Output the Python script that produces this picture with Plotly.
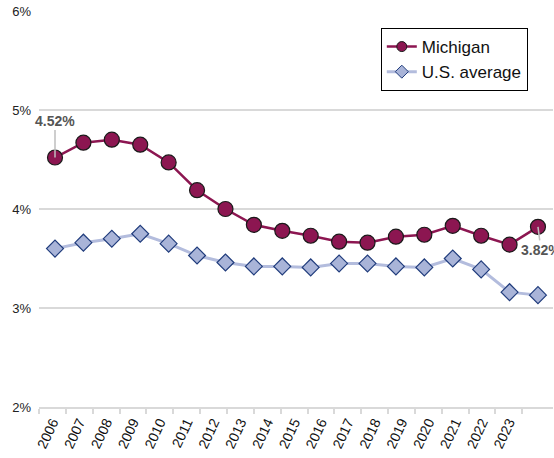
import plotly.graph_objects as go

years = list(range(2006, 2024))
year_labels = [str(y) for y in years]
michigan = [4.52, 4.67, 4.70, 4.65, 4.47, 4.19, 4.00, 3.84, 3.78, 3.73, 3.67, 3.66, 3.72, 3.74, 3.83, 3.73, 3.64, 3.82]
us_avg = [3.60, 3.66, 3.70, 3.75, 3.65, 3.53, 3.46, 3.42, 3.42, 3.41, 3.45, 3.45, 3.42, 3.41, 3.50, 3.39, 3.16, 3.13]
y_ticks = [2, 3, 4, 5, 6]
y_labels = ["2%", "3%", "4%", "5%", "6%"]

FONT = "Liberation Sans, Arial, sans-serif"
MI_COLOR = "#8C1651"
US_LINE = "#B3BCDD"
US_FILL = "#A9B4D8"
US_EDGE = "#203C7C"

fig = go.Figure()
fig.add_trace(go.Scatter(
    x=years, y=us_avg, name="U.S. average", mode="lines+markers", showlegend=False,
    line=dict(color=US_LINE, width=3),
    marker=dict(symbol="diamond", size=13, color=US_FILL, line=dict(color=US_EDGE, width=1.2)),
))
fig.add_trace(go.Scatter(
    x=years, y=michigan, name="Michigan", mode="lines+markers", showlegend=False,
    line=dict(color=MI_COLOR, width=2.5),
    marker=dict(symbol="circle", size=15, color=MI_COLOR, line=dict(color="#1a1a1a", width=1.2)),
))
# legend entries (smaller symbols, as in the reference legend)
fig.add_trace(go.Scatter(
    x=[None], y=[None], name="Michigan", mode="lines+markers",
    line=dict(color=MI_COLOR, width=2.5),
    marker=dict(symbol="circle", size=10, color=MI_COLOR, line=dict(color="#1a1a1a", width=1)),
))
fig.add_trace(go.Scatter(
    x=[None], y=[None], name="U.S. average", mode="lines+markers",
    line=dict(color=US_LINE, width=3),
    marker=dict(symbol="diamond", size=10, color=US_FILL, line=dict(color=US_EDGE, width=1)),
))

n = len(years)
fig.update_layout(
    width=554, height=458,
    margin=dict(l=39, r=1, t=11, b=51),
    paper_bgcolor="white", plot_bgcolor="white",
    font=dict(family=FONT, size=13, color="#111"),
    xaxis=dict(range=[2005.437, 2023.529], showgrid=False, showticklabels=False,
               zeroline=False, showline=False, ticks="", automargin=False),
    xaxis2=dict(overlaying="x", anchor="y", side="bottom", automargin=False,
                range=[-0.5, -0.5 + 514 / 26.85],
                tickmode="array", tickvals=list(range(n)), ticktext=year_labels,
                tickangle=-65, ticks="", showgrid=False, zeroline=False,
                showline=True, linecolor="#D9D9D9", linewidth=1.5,
                tickfont=dict(size=14, color="#111"),
                minor=dict(tickmode="array", tickvals=[i - 0.5 for i in range(n + 1)],
                           ticks="outside", ticklen=5, tickcolor="#D9D9D9", tickwidth=1.5,
                           showgrid=False)),
    yaxis=dict(range=[2, 6], tickmode="array", tickvals=y_ticks, ticktext=y_labels,
               showgrid=True, gridcolor="#D9D9D9", gridwidth=1.5, zeroline=False,
               showline=False, ticks="", ticklabelstandoff=7, automargin=False,
               tickfont=dict(size=13, color="#222")),
    legend=dict(x=0.665, y=0.957, xanchor="left", yanchor="top",
                bgcolor="white", bordercolor="#000", borderwidth=1,
                font=dict(size=17, color="#111")),
    showlegend=True,
)

fig.add_trace(go.Scatter(x=[], y=[], xaxis="x2", yaxis="y", showlegend=False, hoverinfo="skip"))

fig.add_annotation(x=years[0], y=michigan[0], xref="x", yref="y",
                   text="<b>%.2f%%</b>" % michigan[0], showarrow=True, arrowhead=0,
                   arrowcolor="#BFBFBF", arrowwidth=1.5, ax=0, ay=-37,
                   font=dict(size=14, color="#555555"))
fig.add_annotation(x=years[-1], y=michigan[-1], xref="x", yref="y",
                   text="<b>%.2f%%</b>" % michigan[-1], showarrow=True, arrowhead=0,
                   arrowcolor="#BFBFBF", arrowwidth=1.5, ax=3, ay=23,
                   font=dict(size=14, color="#555555"))

fig.write_html("out.html", config={"displayModeBar": False},
               post_script="document.body.style.margin='0';")
